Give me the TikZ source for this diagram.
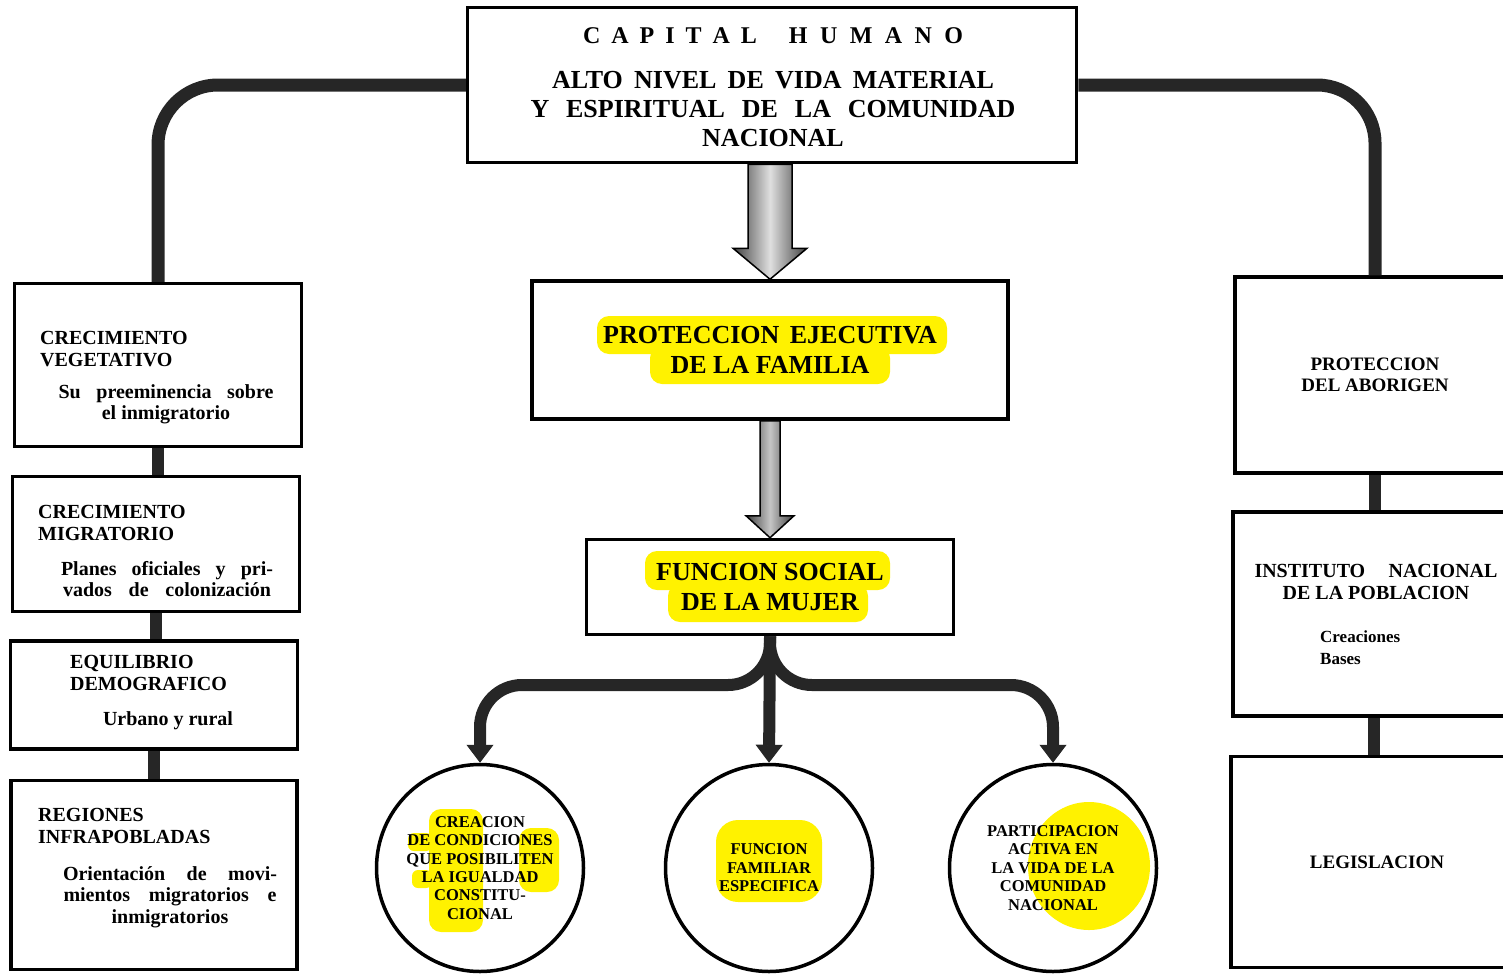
\documentclass[tikz,border=0pt]{standalone}
\usepackage{fontspec}
\setmainfont{Liberation Serif}
\usetikzlibrary{arrows.meta,calc,positioning}
\definecolor{marker}{RGB}{255,242,0}
\definecolor{pipe}{RGB}{38,38,38}
\newcommand{\boldsize}[2]{\fontsize{#1}{#2}\selectfont\bfseries}

\begin{document}
\begin{tikzpicture}[x=1pt,y=-1pt,
  box/.style={draw,line width=3.5pt,rectangle,inner sep=0pt,align=center},
  ring/.style={draw,circle,line width=3.5pt,minimum size=207pt,inner sep=0pt,align=center,font=\boldsize{16.5}{18.4}},
  conn/.style={draw=pipe,line width=13pt},
  fork/.style={draw=pipe,line width=12pt,-{Triangle[width=27pt,length=18pt,line width=1pt]}},
  bigarrow/.style={left color=black!75,right color=black!75,middle color=gray!25,draw=black,line width=1.5pt},
  hl/.style={fill=marker,rounded corners=12pt},
  boxtitle/.style={font=\boldsize{20}{22},align=left,inner sep=0pt},
  boxnote/.style={font=\boldsize{20}{21.5},align=center,inner sep=0pt}]
\useasboundingbox (0,0) rectangle (1503,977);
\clip (0,0) rectangle (1503,977);

% Marker highlights
\fill[hl] (597,316) rectangle (947,354);
\fill[hl] (650,346) rectangle (890,384);
\fill[hl] (645,551) rectangle (890,590);
\fill[hl] (668,584) rectangle (868,622);
\fill[hl] (429,809) rectangle (483,932);
\fill[hl] (519,828) rectangle (559,892);
\fill[hl,rounded corners=6pt] (408,833) rectangle (432,851);
\fill[hl,rounded corners=6pt] (412,870) rectangle (432,888);
\fill[hl,rounded corners=22pt] (716,820) rectangle (822,902);
\fill[marker] (1089,866) ellipse (61 and 64);

% Central column
\node[box,minimum width=609pt,minimum height=155pt] (top) at (772,85) {};
\node[font=\boldsize{26}{29},align=center,inner sep=0pt,anchor=north] (toptext) at (773,27)
  {{\boldsize{24}{29}\makebox[174pt][s]{C A P I T A L}\hspace{32pt}\makebox[174pt][s]{H U M A N O}}\\[16pt]
   \makebox[442pt][s]{ALTO NIVEL DE VIDA MATERIAL}\\
   \makebox[485pt][s]{Y ESPIRITUAL DE LA COMUNIDAD}\\
   NACIONAL};
\node[box,minimum width=476pt,minimum height=138pt,font=\boldsize{26}{30}] (pro) at (770,350) {PROTECCION\hspace{4pt} EJECUTIVA\\DE LA FAMILIA};
\node[box,minimum width=367pt,minimum height=95pt,font=\boldsize{26}{30}] (fun) at (770,587) {FUNCION SOCIAL\\DE LA MUJER};

% Left column
\node[box,minimum width=287pt,minimum height=163pt] (veg) at (158,365) {};
\node[box,minimum width=287pt,minimum height=135pt] (mig) at (156,544) {};
\node[box,minimum width=287pt,minimum height=108pt] (equ) at (154,695) {};
\node[box,minimum width=286pt,minimum height=189pt] (reg) at (154,875) {};
\node[boxtitle,anchor=north west] (vegtitle) at (40,331) {CRECIMIENTO\\VEGETATIVO};
\node[boxnote,anchor=north] (vegnote) at (166,384) {\makebox[215pt][s]{Su preeminencia sobre}\\el inmigratorio};
\node[boxtitle,anchor=north west] (migtitle) at (38,505) {CRECIMIENTO\\MIGRATORIO};
\node[boxnote,anchor=north] (mignote) at (167,561) {\makebox[212pt][s]{Planes oficiales y pri-}\\\makebox[208pt][s]{vados de colonización}};
\node[boxtitle,anchor=north west] (equtitle) at (70,655) {EQUILIBRIO\\DEMOGRAFICO};
\node[boxnote,anchor=north] (equnote) at (168,711) {Urbano y rural};
\node[boxtitle,anchor=north west] (regtitle) at (38,808) {REGIONES\\INFRAPOBLADAS};
\node[boxnote,anchor=north] (regnote) at (170,866) {\makebox[214pt][s]{Orientación de movi-}\\\makebox[213pt][s]{mientos migratorios e}\\inmigratorios};

% Right column
\node[box,minimum width=280pt,minimum height=196pt,font=\boldsize{19}{21}] (abo) at (1375,375) {PROTECCION\\DEL ABORIGEN};
\node[box,minimum width=282pt,minimum height=204pt] (ins) at (1374,614) {};
\node[font=\boldsize{20}{22},align=center,inner sep=0pt,anchor=north] (institle) at (1376,564) {\makebox[243pt][s]{INSTITUTO NACIONAL}\\DE LA POBLACION};
\node[font=\boldsize{17}{22},align=left,inner sep=0pt,anchor=north west] (insnote) at (1320,630) {Creaciones\\Bases};
\node[box,minimum width=284pt,minimum height=211pt,font=\boldsize{19}{21}] (leg) at (1373,862) {\hspace{8pt}LEGISLACION};

% Circles
\node[ring] (cl) at (480,868) {CREACION\\DE CONDICIONES\\QUE POSIBILITEN\\LA IGUALDAD\\CONSTITU-\\CIONAL};
\node[ring] (cm) at (769,868) {FUNCION\\FAMILIAR\\ESPECIFICA};
\node[ring] (cr) at (1053,868) {PARTICIPACION\\ACTIVA EN\\LA VIDA DE LA\\COMUNIDAD\\NACIONAL};

% Branches from the top box
\draw[conn,rounded corners=60pt] (top.west) -| (veg.north);
\draw[conn,rounded corners=58pt] (top.east) -| (abo.north);
\draw[conn,line width=12pt] (veg.south) -- (veg.south |- mig.north);
\draw[conn,line width=12pt] (mig.south) -- (mig.south |- equ.north);
\draw[conn,line width=12pt] (equ.south) -- (reg.north);
\draw[conn,line width=12pt] (abo.south) -- (abo.south |- ins.north);
\draw[conn,line width=12pt] (ins.south) -- (ins.south |- leg.north);

% Block arrows
\coordinate (shaft) at (top.south -| pro.north);
\shadedraw[bigarrow] ($(shaft)+(-22,0)$) -- ($(pro.north)+(-22,-31)$) -- ($(pro.north)+(-37,-31)$)
  -- (pro.north) -- ($(pro.north)+(37,-31)$) -- ($(pro.north)+(22,-31)$) -- ($(shaft)+(22,0)$) -- cycle;
\shadedraw[bigarrow,middle color=gray!45] ($(pro.south)+(-10,0)$) -- ($(fun.north)+(-10,-22)$) -- ($(fun.north)+(-24,-22)$)
  -- (fun.north) -- ($(fun.north)+(24,-22)$) -- ($(fun.north)+(10,-22)$) -- ($(pro.south)+(10,0)$) -- cycle;

% Fork to the circles
\coordinate (split) at (770,685);
\draw[fork,rounded corners=42pt] (fun.south) |- (split -| cl.north) -- (cl.north);
\draw[fork] (fun.south) -- (cm.north);
\draw[fork,rounded corners=42pt] (fun.south) |- (split -| cr.north) -- (cr.north);
\end{tikzpicture}
\end{document}
